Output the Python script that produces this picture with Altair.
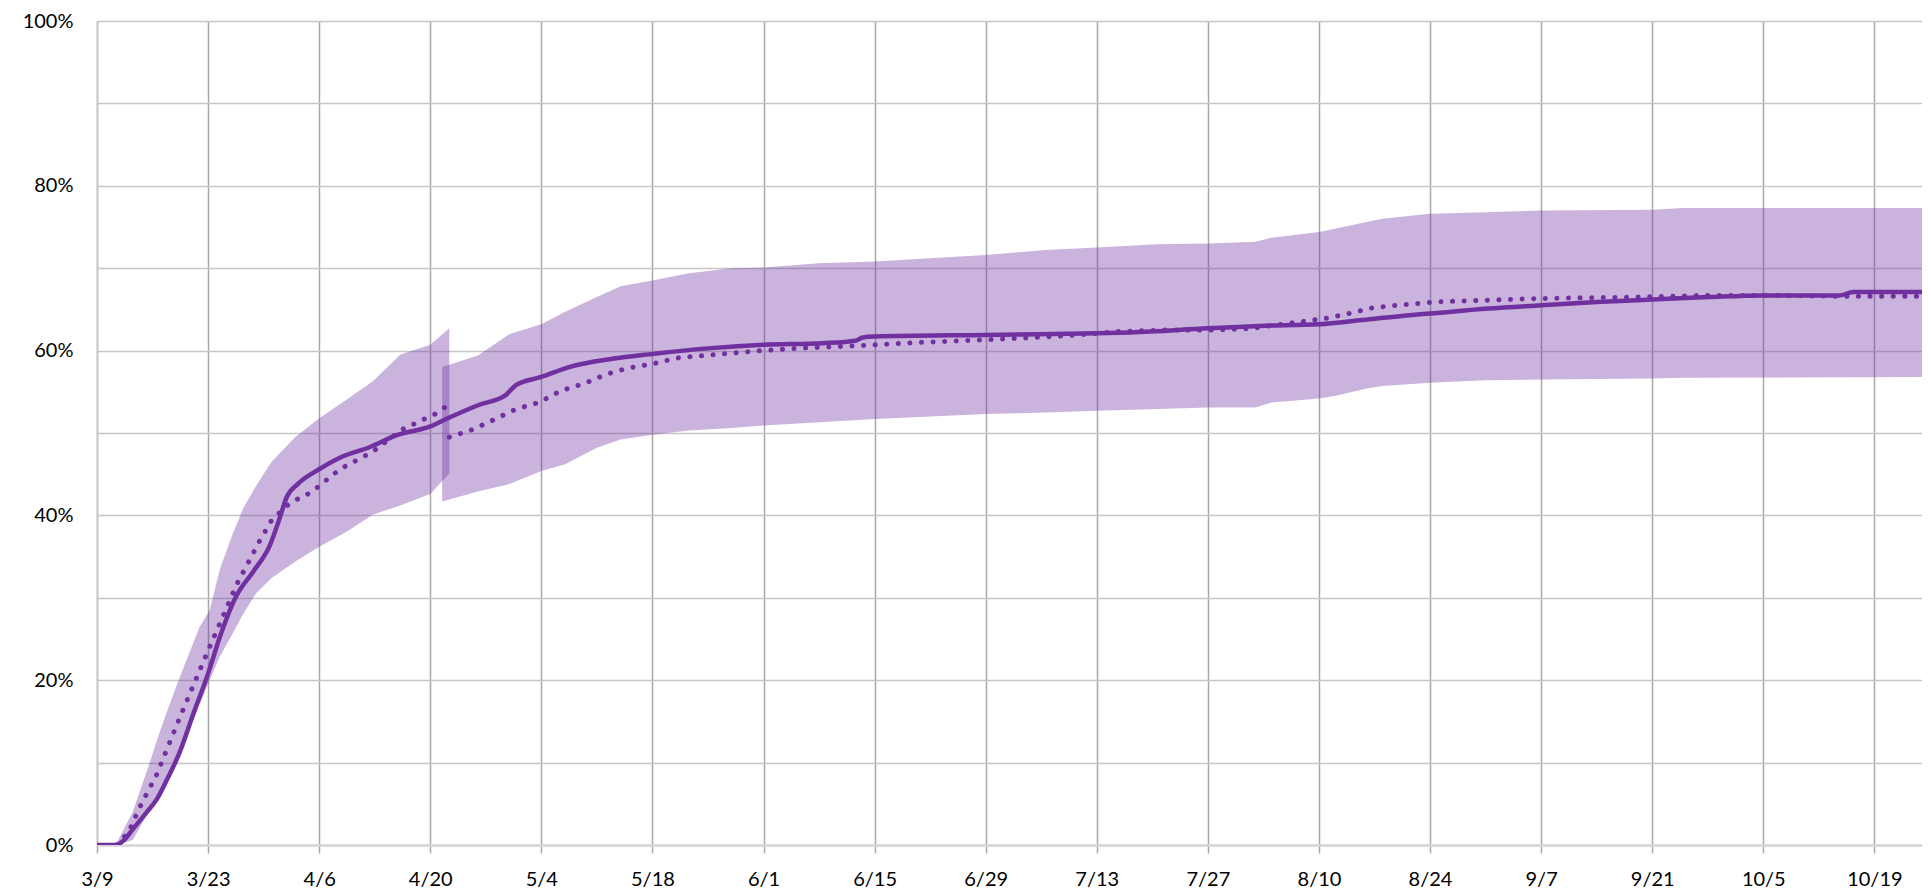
import altair as alt
import pandas as pd

# ---- tick labels ----
tick_days = [0, 14, 28, 42, 56, 70, 84, 98, 112, 126, 140, 154, 168, 182, 196, 210, 224]
tick_labels = ["3/9", "3/23", "4/6", "4/20", "5/4", "5/18", "6/1", "6/15", "6/29",
               "7/13", "7/27", "8/10", "8/24", "9/7", "9/21", "10/5", "10/19"]
y_ticks = [0, 10, 20, 30, 40, 50, 60, 70, 80, 90, 100]

# ---- actual (solid line), % by days since 3/9 ----
solid_days = [0, 2.3, 3.3, 4.5, 6.2, 7.5, 8.7, 10.4, 12.1, 14, 15.5, 17.6, 19.7, 21.8, 23,
              23.9, 25.3, 28, 30.6, 34.4, 37.7, 42, 44, 48.1, 51.5, 52.8, 56, 59.5, 64.9,
              70, 77.4, 84, 91.4, 95.6, 96.5, 98, 112, 126, 130.2, 140, 146.5, 154, 159.4,
              165.4, 168, 175.3, 182, 189, 196, 203.2, 210, 219.6, 221.3, 230]
solid_vals = [0, 0, 0.5, 1.9, 3.9, 5.5, 7.7, 11.2, 15.8, 20.8, 25.3, 30.3, 33.2, 36.4, 39.6,
              42.2, 43.8, 45.6, 47, 48.3, 49.7, 50.8, 51.7, 53.4, 54.6, 55.8, 56.8, 58, 59,
              59.6, 60.3, 60.7, 60.9, 61.2, 61.6, 61.7, 61.9, 62.1, 62.2, 62.7, 63, 63.2, 63.7,
              64.3, 64.5, 65.1, 65.5, 65.9, 66.2, 66.5, 66.7, 66.7, 67.1, 67.1]

# ---- projection (dotted), first and second model runs ----
dot1_days = [2.5, 4, 5.4, 7.5, 10.4, 14, 17.6, 20.5, 22, 24.3, 27, 30.6, 34.7, 38.4, 42.6, 43.8]
dot1_vals = [0, 1.6, 4.6, 8.5, 15.4, 23.6, 31.6, 36.9, 39.4, 41.5, 42.8, 45.6, 47.7, 50.4, 52.3, 53.1]

dot2_days = [44.4, 47.3, 50, 52.8, 55.7, 58.4, 61.4, 64.1, 67, 70.1, 73.1, 76.4, 82.4, 88.6,
             96.2, 103.9, 111.7, 116.2, 122.3, 128.5, 134.7, 140.9, 145.6, 150.1, 154.8,
             157.8, 160.8, 163.8, 168.5, 174.7, 180.8, 186.8, 194.4, 202.7, 210.9, 219, 230]
dot2_vals = [49.5, 50.4, 51.6, 52.9, 53.7, 55.1, 56, 57.1, 57.9, 58.4, 59.1, 59.4, 59.9, 60.3,
             60.6, 61, 61.3, 61.5, 61.8, 62.3, 62.5, 62.5, 62.7, 63.3, 63.9,
             64.5, 65.2, 65.5, 65.9, 66.1, 66.3, 66.4, 66.5, 66.7, 66.7, 66.6, 66.6]

# ---- uncertainty bands ----
band1_days = [0, 2.5, 4.5, 6.5, 8, 10, 12.9, 14.2, 15.5, 17, 18.4, 20, 22, 25, 28, 31.4,
              34.8, 38.2, 42, 44.4]
band1_lo = [0, 0, 0.6, 4, 6, 10, 17, 20, 22.9, 25.5, 28, 30.5, 32.4, 34.4, 36.2, 38,
            40.1, 41.2, 42.6, 45.1]
band1_hi = [0, 0.3, 4, 9.6, 14, 19.3, 26.4, 28.5, 33.5, 37.5, 40.8, 43.5, 46.5,
            49.5, 51.8, 54, 56.3, 59.5, 60.7, 62.7]

band2_days = [43.5, 48, 52, 56, 59, 63, 66, 70, 74.6, 80, 84, 91, 98, 105, 112, 119.5, 126,
              133.6, 140, 146, 148, 154, 156, 160, 162, 168, 175, 182, 196, 200, 230]
band2_lo = [41.7, 42.9, 43.8, 45.4, 46.2, 48.2, 49.2, 49.8, 50.3, 50.6, 50.9, 51.3, 51.7, 52,
            52.3, 52.5, 52.7, 52.9, 53.1, 53.1, 53.7, 54.2, 54.5, 55.4, 55.7, 56.1, 56.4,
            56.5, 56.6, 56.7, 56.8]
band2_hi = [58, 59.4, 62, 63.2, 64.7, 66.5, 67.8, 68.5, 69.4, 70, 70.1, 70.6, 70.8, 71.2,
            71.6, 72.2, 72.5, 72.9, 73, 73.2, 73.7, 74.4, 74.8, 75.6, 76, 76.6, 76.8, 77,
            77.1, 77.3, 77.3]

PURPLE = "#7030A0"

solid_df = pd.DataFrame({"day": solid_days, "v": solid_vals})
dot_df = pd.concat([
    pd.DataFrame({"day": dot1_days, "v": dot1_vals, "seg": "a"}),
    pd.DataFrame({"day": dot2_days, "v": dot2_vals, "seg": "b"}),
])
b1 = pd.DataFrame({"day": band1_days, "lo": band1_lo, "hi": band1_hi})
b2 = pd.DataFrame({"day": band2_days, "lo": band2_lo, "hi": band2_hi})

label_expr = "[" + ",".join("'%s'" % t for t in tick_labels) + "][round(datum.value/14)]"

x_enc = alt.X(
    "day:Q",
    scale=alt.Scale(domain=[0, 230], nice=False, zero=False),
    axis=alt.Axis(values=tick_days, labelExpr=label_expr, title=None, grid=True,
                  gridColor="#A8A8A8", gridWidth=1.5, tickColor="#A8A8A8", tickSize=8,
                  tickWidth=1.5, domainColor="#D6D6D6", domainWidth=2.5,
                  labelFont="Lato", labelFontSize=20, labelColor="#000000",
                  labelPadding=16, labelFlush=False),
)
y_scale = alt.Scale(domain=[0, 100], nice=False)
y_axis = alt.Axis(values=y_ticks, title=None, grid=True, gridColor="#C6C6C6", gridWidth=1.5,
                  ticks=False, tickSize=0, domainColor="#C6C6C6", domainWidth=1.5,
                  labelExpr="datum.value % 20 == 0 ? datum.value + '%' : ''",
                  labelFont="Lato", labelFontSize=20, labelColor="#000000", labelPadding=24)

band1 = alt.Chart(b1).mark_area(color=PURPLE, opacity=0.37, clip=True).encode(
    x=x_enc, y=alt.Y("lo:Q", scale=y_scale, axis=y_axis), y2="hi:Q")
band2 = alt.Chart(b2).mark_area(color=PURPLE, opacity=0.37, clip=True).encode(
    x="day:Q", y="lo:Q", y2="hi:Q")
dotted = alt.Chart(dot_df).mark_line(color=PURPLE, strokeWidth=5, strokeCap="round",
                                     strokeDash=[0.1, 11.5], clip=True).encode(
    x="day:Q", y="v:Q", detail="seg:N")
solid = alt.Chart(solid_df).mark_line(color=PURPLE, strokeWidth=4.5, strokeJoin="round",
                                      interpolate="monotone", clip=True).encode(
    x="day:Q", y="v:Q")

chart = alt.layer(band1, band2, dotted, solid).properties(
    width=1825, height=824,
    autosize=alt.AutoSizeParams(type="none"),
    padding={"left": 89, "top": 13, "right": 0, "bottom": 45},
).configure_view(stroke=None).configure(background="white")

chart.save("out.html", embed_options={"renderer": "svg", "actions": False})
